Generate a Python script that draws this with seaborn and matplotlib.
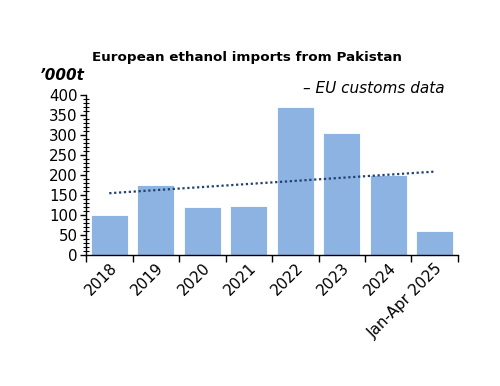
import matplotlib
matplotlib.use("Agg")
import matplotlib.pyplot as plt
import numpy as np
import seaborn as sns
from matplotlib.ticker import MultipleLocator, FixedLocator

# Data
years = ['2018', '2019', '2020', '2021', '2022', '2023', '2024', 'Jan-Apr 2025']
imports_kt = [100, 175, 120, 123, 370, 305, 200, 60]

sns.set_style('white')
plt.rcParams['font.family'] = ['DejaVu Sans']
plt.rcParams['text.color'] = 'black'
plt.rcParams['xtick.color'] = 'black'
plt.rcParams['ytick.color'] = 'black'

fig = plt.figure(figsize=(5.00, 3.86), dpi=100)
ax = fig.add_axes([0.172, 0.339, 0.744, 0.415])

sns.barplot(x=years, y=imports_kt, color='#8DB3E2', saturation=1, width=0.8,
            edgecolor='white', linewidth=0.6, ax=ax)

# linear trend line
xs = np.arange(len(years))
slope, icpt = np.polyfit(xs, imports_kt, 1)
ax.plot(xs, slope * xs + icpt, color='#1F3F77', linestyle=(0, (1, 1.2)), linewidth=1.6)

ax.set_ylim(0, 400)
ax.set_xlim(-0.5, len(years) - 0.5)
ax.yaxis.set_major_locator(MultipleLocator(50))
ax.yaxis.set_minor_locator(MultipleLocator(10))
ax.tick_params(axis='y', which='major', direction='out', length=4, width=1,
               labelsize=10.8, pad=2, left=True)
ax.tick_params(axis='y', which='minor', direction='inout', length=4, width=0.8, left=True)

ax.set_xticks(xs)
ax.set_xticklabels(years, rotation=45, ha='right', rotation_mode='anchor', fontsize=11)
ax.tick_params(axis='x', which='major', length=0, pad=4)
ax.xaxis.set_minor_locator(FixedLocator(np.arange(-0.5, len(years), 1)))
ax.tick_params(axis='x', which='minor', direction='out', length=5, width=1, bottom=True)

for s in ['top', 'right']:
    ax.spines[s].set_visible(False)
for s in ['left', 'bottom']:
    ax.spines[s].set_color('black')
    ax.spines[s].set_linewidth(1)

fig.text(0.494, 0.852, 'European ethanol imports from Pakistan', ha='center', va='center',
         fontsize=9.7, fontweight='bold')
fig.text(0.08, 0.805, '\u2019000t', ha='left', va='center', fontsize=11,
         fontweight='bold', fontstyle='italic')
fig.text(0.89, 0.77, '\u2013 EU customs data', ha='right', va='center', fontsize=11,
         fontstyle='italic')

fig.savefig('out.png', dpi=100)
